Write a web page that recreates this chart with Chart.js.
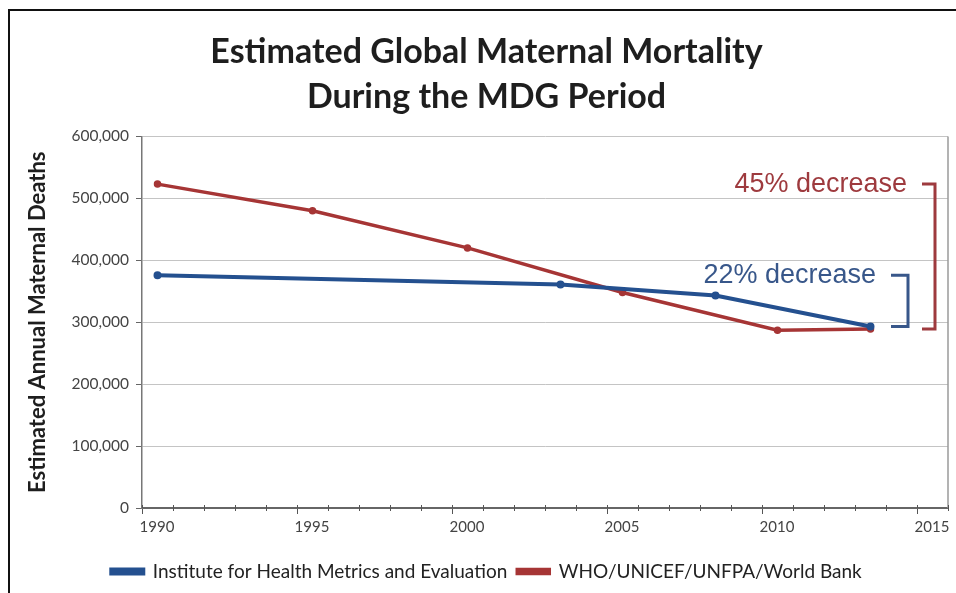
<!DOCTYPE html>
<html>
<head>
<meta charset="utf-8">
<script src="https://cdn.jsdelivr.net/npm/chart.js@4"></script>
<style>
    html, body { margin: 0; padding: 0; background: #fff; }
    #wrap { position: relative; width: 956px; height: 593px; overflow: hidden; }
    #frame { position: absolute; left: 8px; top: 9px; right: -4px; bottom: -4px;
             border-left: 2px solid #111; border-top: 2px solid #111; }
    canvas { position: absolute; left: 0; top: 0; }
</style>
</head>
<body>
<div id="wrap">
    <div id="frame"></div>
    <canvas id="mortalityChart" width="956" height="593"></canvas>
</div>
<script>
// Data
const xTicks = [1990, 1995, 2000, 2005, 2010, 2015];
const yTicks = [0, 100000, 200000, 300000, 400000, 500000, 600000];

const ihmeYears = [1990.5, 2003.5, 2008.5, 2013.5];
const ihmeDeaths = [376000, 361000, 343000, 293000];

const whoYears = [1990.5, 1995.5, 2000.5, 2005.5, 2010.5, 2013.5];
const whoDeaths = [523000, 480000, 420000, 348000, 287000, 289000];

const BLUE = '#24508f';
const RED = '#a63535';

const toPoints = (xs, ys) => xs.map((x, i) => ({ x: x, y: ys[i] }));

// minor year ticks, right border and the two "decrease" brackets
const decorations = {
    id: 'decorations',
    afterDraw(chart) {
        const ctx = chart.ctx;
        const area = chart.chartArea;
        const xs = chart.scales.x;
        const ys = chart.scales.y;

        ctx.save();
        // right border of the plot
        ctx.strokeStyle = '#9a9a9a';
        ctx.lineWidth = 1.5;
        ctx.beginPath();
        ctx.moveTo(area.right, area.top);
        ctx.lineTo(area.right, area.bottom);
        ctx.stroke();

        // minor ticks every year
        ctx.strokeStyle = '#555';
        ctx.lineWidth = 1;
        for (let yr = xs.min; yr <= xs.max; yr++) {
            const px = Math.round(xs.getPixelForValue(yr)) + 0.5;
            const major = yr % 5 === 0;
            ctx.beginPath();
            ctx.moveTo(px, area.bottom - 3);
            ctx.lineTo(px, area.bottom + (major ? 0 : 3));
            ctx.stroke();
        }

        // brackets
        const bracket = (series, xLine, stub, color, label) => {
            const yTop = ys.getPixelForValue(series[0]);
            const yBot = ys.getPixelForValue(series[series.length - 1]);
            ctx.strokeStyle = color;
            ctx.lineWidth = 3;
            ctx.beginPath();
            ctx.moveTo(xLine - stub, yTop);
            ctx.lineTo(xLine, yTop);
            ctx.lineTo(xLine, yBot);
            ctx.lineTo(xLine - stub, yBot);
            ctx.stroke();
            ctx.fillStyle = color;
            ctx.font = '27px "Liberation Sans", Arial, sans-serif';
            ctx.textAlign = 'right';
            ctx.textBaseline = 'middle';
            ctx.fillText(label, xLine - stub - 15, yTop);
        };
        bracket(whoDeaths, area.right - 13, 13, '#9e3a3e', '45% decrease');
        bracket(ihmeDeaths, area.right - 40, 17, '#38578a', '22% decrease');
        ctx.restore();
    }
};

const chart = new Chart(document.getElementById('mortalityChart'), {
    type: 'line',
    data: {
        datasets: [
            {
                label: 'Institute for Health Metrics and Evaluation',
                data: toPoints(ihmeYears, ihmeDeaths),
                borderColor: BLUE,
                backgroundColor: BLUE,
                borderWidth: 4,
                pointRadius: 2,
                pointBackgroundColor: BLUE,
                pointBorderColor: BLUE,
                tension: 0
            },
            {
                label: 'WHO/UNICEF/UNFPA/World Bank',
                data: toPoints(whoYears, whoDeaths),
                borderColor: RED,
                backgroundColor: RED,
                borderWidth: 3.5,
                pointRadius: 2,
                pointBackgroundColor: RED,
                pointBorderColor: RED,
                tension: 0
            }
        ]
    },
    options: {
        responsive: false,
        animation: false,
        devicePixelRatio: 1,
        layout: { padding: { left: 25, right: 8, top: 0, bottom: 2 } },
        plugins: {
            title: {
                display: true,
                text: ['Estimated Global Maternal Mortality', 'During the MDG Period'],
                color: '#1e1e1e',
                font: { family: 'Lato, "Open Sans", sans-serif', size: 34, weight: 'bold', lineHeight: 1.33 },
                padding: { top: 29, bottom: 17 }
            },
            legend: {
                position: 'bottom',
                labels: {
                    color: '#222',
                    font: { family: 'Lato, "Open Sans", sans-serif', size: 19 },
                    boxWidth: 32,
                    boxHeight: 4,
                    padding: 10
                }
            },
            tooltip: { enabled: false }
        },
        scales: {
            x: {
                type: 'linear',
                min: 1990,
                max: 2016,
                afterBuildTicks: scale => { scale.ticks = xTicks.map(v => ({ value: v })); },
                afterFit: scale => { scale.height = 44; },
                ticks: {
                    color: '#444',
                    font: { family: 'Lato, sans-serif', size: 15 },
                    labelOffset: 15,
                    padding: 4,
                    maxRotation: 0,
                    callback: v => String(v)
                },
                grid: { drawOnChartArea: false, drawTicks: true, tickLength: 6, color: '#555' },
                border: { color: '#666', width: 2 }
            },
            y: {
                min: 0,
                max: 600000,
                afterBuildTicks: scale => { scale.ticks = yTicks.map(v => ({ value: v })); },
                afterFit: scale => { scale.width = 117; },
                ticks: {
                    color: '#444',
                    font: { family: 'Lato, sans-serif', size: 15.5 },
                    padding: 7,
                    callback: v => v.toLocaleString('en-US')
                },
                grid: { color: '#c4c4c4', lineWidth: 1, tickLength: 6, tickColor: '#666' },
                border: { color: '#777', width: 1.5 },
                title: {
                    display: true,
                    text: 'Estimated Annual Maternal Deaths',
                    color: '#1e1e1e',
                    font: { family: 'Lato, "Open Sans", sans-serif', size: 22, weight: 'bold' },
                    padding: { top: 0, bottom: 0 }
                }
            }
        }
    },
    plugins: [decorations]
});
</script>
</body>
</html>
